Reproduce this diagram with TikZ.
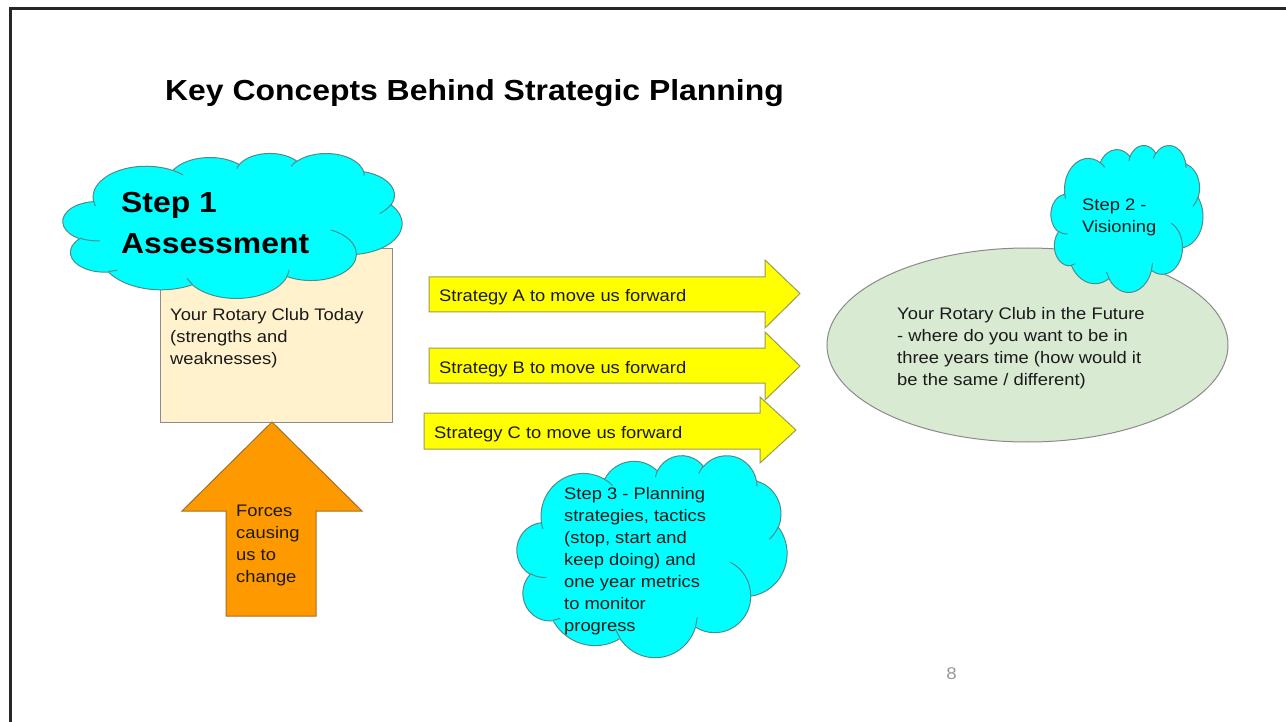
\documentclass[tikz,border=0pt]{standalone}
\usepackage{fontspec}
\setmainfont{Liberation Sans}[FakeStretch=1.1]
\usetikzlibrary{shapes.geometric}
\definecolor{cloudfill}{HTML}{00FFFF}
\definecolor{cloudline}{HTML}{4E8C8C}
\definecolor{boxfill}{HTML}{FFF2CC}
\definecolor{boxline}{HTML}{8C8C8C}
\definecolor{orangefill}{HTML}{FF9900}
\definecolor{orangeline}{HTML}{A0702A}
\definecolor{yellowfill}{HTML}{FFFF00}
\definecolor{yellowline}{HTML}{9A9A5A}
\definecolor{ellfill}{HTML}{D9EAD3}
\definecolor{ellline}{HTML}{8A8A8A}
\definecolor{txt}{HTML}{1A1A1A}
\definecolor{pagenum}{HTML}{999999}
\tikzset{
  cloudshape/.style={draw=cloudline, fill=cloudfill, line width=1pt},
  cloudinner/.style={draw=cloudline, line width=1pt},
  bodytext/.style={anchor=base west, inner sep=0pt, align=left, text=txt,
    font=\fontsize{16.7}{22}\selectfont},
  bigtext/.style={anchor=base west, inner sep=0pt, align=left, text=black,
    font=\fontsize{29}{41}\selectfont\bfseries},
  yarrow/.style={draw=yellowline, fill=yellowfill, line width=1pt, line join=miter},
}
% arc given DrawingML-style: wR hR startAngle sweepAngle (visual angles, degrees)
\newcommand\pptarc[4]{%
  \pgfextra{%
    \pgfmathparse{atan2((#1)*sin(#3),(#2)*cos(#3))}\xdef\pptS{\pgfmathresult}%
    \pgfmathparse{atan2((#1)*sin((#3)+(#4)),(#2)*cos((#3)+(#4)))}\xdef\pptE{\pgfmathresult}%
    \pgfmathparse{mod(\pptE-\pptS+720,360)}\xdef\pptD{\pgfmathresult}%
  }%
  arc[start angle=\pptS, delta angle=\pptD, x radius=#1, y radius=#2]}
\newcommand\pptoutline{(390,1437)
 \pptarc{675.3}{919.0}{-190.4875}{123.7805}
 \pptarc{533.3}{726.7}{-144.1024}{89.9452}
 \pptarc{436.5}{594.5}{-145.8079}{99.7230}
 \pptarc{485.7}{659.5}{-130.9861}{117.2417}
 \pptarc{533.3}{727.3}{-78.7089}{109.0269}
 \pptarc{677.5}{922.0}{-46.2673}{130.2690}
 \pptarc{578.5}{786.7}{0.6250}{114.0333}
 \pptarc{675.2}{921.5}{22.4516}{115.1726}
 \pptarc{772.0}{1054.3}{66.2426}{75.7110}
 \pptarc{436.0}{591.8}{-274.9421}{146.7356}
 \pptarc{434.5}{594.5}{-246.8285}{152.5189}
 -- cycle}
\newcommand\pptinner{
 (469.3,2617.7) \pptarc{434.5}{594.5}{86.7420}{26.4295}
 (692.8,3489.9) \pptarc{436.0}{591.8}{73.6105}{11.4475}
 (1647.8,3909.0) \pptarc{675.2}{921.5}{137.6242}{14.0811}
 (2882.7,3475.1) \pptarc{675.2}{921.5}{6.4533}{15.9984}
 (3412.9,2295.4) \pptarc{578.5}{786.7}{-70.2924}{70.9174}
 (4179.8,1535.4) \pptarc{533.3}{727.3}{30.3180}{27.7515}
 (3832.4,542.6) \pptarc{485.7}{659.5}{-13.7443}{14.8589}
 (2907.8,395.2) \pptarc{485.7}{659.5}{-149.1815}{18.1954}
 (2214.1,472.0) \pptarc{436.5}{594.5}{-163.4943}{17.6864}
 (1400.0,519.2) \pptarc{675.3}{919.0}{-66.7070}{12.3194}
 (412.7,1578.9) \pptarc{675.3}{919.0}{157.6544}{11.8582}
}
% #1 name, #2 x0, #3 y0, #4 width, #5 height
\newcommand\pptcloud[5]{%
  \pgfmathsetmacro\pptcw{#4/4320}%
  \pgfmathsetmacro\pptch{#5/4320}%
  \begin{scope}[shift={(#2,#3)}, x=\pptcw pt, y=-\pptch pt]
    \path[cloudshape] \pptoutline;
    \path[cloudinner] \pptinner;
    \coordinate (#1) at (2160,2160);
  \end{scope}}
\begin{document}
\begin{tikzpicture}[x=1pt,y=-1pt]
\useasboundingbox (0,0) rectangle (1286,722);
\fill[white] (0,0) rectangle (1286,722);
% frame
\draw[line width=3pt, black!85] (10.5,722) -- (10.5,9) -- (1286,9);
% title
\node[anchor=base west, inner sep=0pt, font=\fontsize{29}{34}\selectfont\bfseries] (title) at (165,101) {Key Concepts Behind Strategic Planning};

% today box
\node[draw=boxline, fill=boxfill, line width=1pt, minimum width=231.5pt, minimum height=174pt, anchor=north west, inner sep=0pt] (today) at (160,248) {};
% step 1 cloud
\pptcloud{s1cloud}{63}{153}{339}{145}
\node[bigtext] (s1text) at (121,254) {Step 1\\Assessment};
\node[bodytext] (todaytext) at (170,364.5) {Your Rotary Club Today\\(strengths and\\weaknesses)};

% orange arrow
\draw[draw=orangeline, fill=orangefill, line width=1pt] (272,422) -- (362,511) -- (316,511) -- (316,616) -- (226,616) -- (226,511) -- (182,511) -- cycle;
\node[bodytext] (forces) at (236,582) {Forces\\causing\\us to\\change};

% yellow arrows
\draw[yarrow] (429,277) -- (765,277) -- (765,260) -- (800,293.5) -- (765,328) -- (765,312) -- (429,312) -- cycle;
\node[bodytext] (stratA) at (439,301.5) {Strategy A to move us forward};
\draw[yarrow] (429,348) -- (765,348) -- (765,332) -- (800,366) -- (765,400) -- (765,383) -- (429,383) -- cycle;
\node[bodytext] (stratB) at (439,373) {Strategy B to move us forward};
\draw[yarrow] (424,413) -- (760,413) -- (760,397) -- (796,430) -- (760,463) -- (760,449) -- (424,449) -- cycle;
\node[bodytext] (stratC) at (434,438) {Strategy C to move us forward};

% future ellipse
\node[ellipse, draw=ellline, fill=ellfill, line width=1pt, minimum width=401pt, minimum height=194pt, inner sep=0pt] (future) at (1027.5,345) {};
\node[bodytext] (futuretext) at (897,385) {Your Rotary Club in the Future\\- where do you want to be in\\three years time (how would it\\be the same / different)};

% step 2 cloud
\pptcloud{s2cloud}{1051}{145}{152}{147}
\node[bodytext] (s2text) at (1082,233) {Step 2 -\\Visioning};

% step 3 cloud
\pptcloud{s3cloud}{517}{455}{270}{202}
\node[bodytext] (s3text) at (564,631) {Step 3 - Planning\\strategies, tactics\\(stop, start and\\keep doing) and\\one year metrics\\to monitor\\progress};

% page number
\node[anchor=base, inner sep=0pt, text=pagenum, font=\fontsize{17}{20}\selectfont] (page) at (951.5,679) {8};
\end{tikzpicture}
\end{document}
